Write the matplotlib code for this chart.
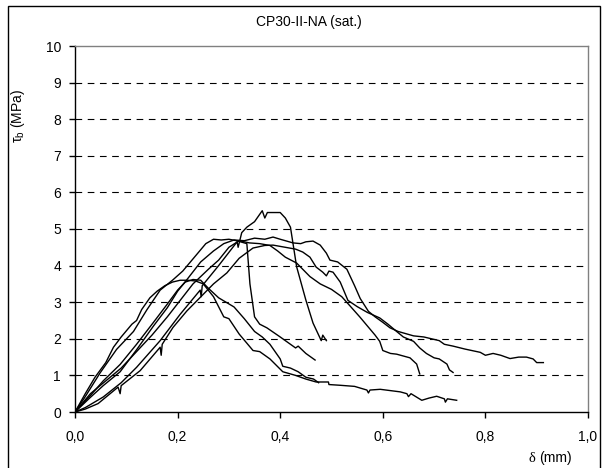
import matplotlib
matplotlib.use("Agg")
from matplotlib import pyplot as plt
from matplotlib.patches import Rectangle

TITLE = "CP30-II-NA (sat.)"
Y_LABEL = r"τ$_\mathregular{b}$ (MPa)"

x_ticks = [0.0, 0.2, 0.4, 0.6, 0.8, 1.0]
x_tick_labels = ["0,0", "0,2", "0,4", "0,6", "0,8", "1,0"]
y_ticks = list(range(11))
grid_levels = list(range(1, 10))

# steepest, peak ~3.6, long low tail
c1_x = [0, 0.01, 0.02, 0.039, 0.06, 0.075, 0.09, 0.111, 0.12, 0.13, 0.146, 0.16, 0.175,
        0.19, 0.205, 0.22, 0.235, 0.25, 0.27, 0.29, 0.30, 0.32, 0.347, 0.36, 0.38, 0.405,
        0.43, 0.45, 0.47, 0.494, 0.495, 0.517, 0.545, 0.569, 0.572, 0.575, 0.595,
        0.634, 0.647, 0.65, 0.655, 0.676, 0.69, 0.705, 0.72, 0.722, 0.726, 0.744]
c1_y = [0, 0.25, 0.5, 0.95, 1.35, 1.77, 2.05, 2.4, 2.5, 2.8, 3.12, 3.3, 3.45,
        3.55, 3.6, 3.6, 3.58, 3.5, 3.15, 2.6, 2.55, 2.13, 1.68, 1.65, 1.45, 1.1,
        1.0, 0.9, 0.82, 0.82, 0.75, 0.73, 0.7, 0.6, 0.52, 0.6, 0.62,
        0.55, 0.5, 0.42, 0.5, 0.32, 0.38, 0.43, 0.36, 0.27, 0.36, 0.32]

# peak ~3.6, ends near 0.48
c2_x = [0, 0.03, 0.055, 0.088, 0.12, 0.153, 0.18, 0.2, 0.215, 0.23, 0.245, 0.26,
        0.28, 0.31, 0.33, 0.35, 0.365, 0.38, 0.40, 0.405, 0.42, 0.435, 0.45,
        0.465, 0.475]
c2_y = [0, 0.45, 0.85, 1.3, 1.85, 2.45, 2.95, 3.33, 3.55, 3.62, 3.6, 3.38,
        3.12, 2.87, 2.55, 2.2, 2.05, 1.85, 1.45, 1.25, 1.2, 1.1, 0.95,
        0.9, 0.8]

# plateau ~4.7, sharp drop, ends at 1.4
c3_x = [0, 0.02, 0.049, 0.081, 0.114, 0.14, 0.166, 0.19, 0.21, 0.225, 0.24, 0.255,
        0.27, 0.285, 0.30, 0.315, 0.335, 0.341, 0.35, 0.36, 0.374, 0.40, 0.43,
        0.435, 0.45, 0.468]
c3_y = [0, 0.42, 1.07, 1.71, 2.2, 2.79, 3.33, 3.6, 3.85, 4.1, 4.35, 4.6,
        4.72, 4.7, 4.72, 4.68, 4.6, 3.5, 2.6, 2.4, 2.3, 2.05, 1.75,
        1.8, 1.6, 1.42]

# highest peak ~5.5
c4_x = [0, 0.02, 0.055, 0.09, 0.12, 0.166, 0.205, 0.244, 0.246, 0.248, 0.28,
        0.316, 0.318, 0.325, 0.335, 0.35, 0.36, 0.365, 0.37, 0.375, 0.385, 0.40,
        0.41, 0.42, 0.425, 0.432, 0.45, 0.464, 0.48, 0.483, 0.49]
c4_y = [0, 0.12, 0.41, 0.8, 1.22, 1.95, 2.67, 3.33, 3.15, 3.45, 4.0,
        4.65, 4.5, 4.9, 5.05, 5.2, 5.4, 5.5, 5.3, 5.45, 5.45, 5.45,
        5.3, 5.05, 4.6, 3.97, 3.06, 2.43, 1.95, 2.1, 1.95]

# long tail to 0.91
c5_x = [0, 0.03, 0.055, 0.088, 0.12, 0.153, 0.18, 0.2, 0.22, 0.245, 0.27, 0.29,
        0.31, 0.33, 0.35, 0.37, 0.386, 0.40, 0.425, 0.44, 0.45, 0.464, 0.478,
        0.49, 0.497, 0.512, 0.53, 0.545, 0.556, 0.572, 0.585, 0.60, 0.614, 0.63,
        0.66, 0.68, 0.71, 0.72, 0.737, 0.76, 0.79, 0.80, 0.815, 0.83, 0.848,
        0.865, 0.88, 0.893, 0.90, 0.913]
c5_y = [0, 0.4, 0.72, 1.1, 1.7, 2.35, 2.85, 3.3, 3.65, 4.1, 4.4, 4.6,
        4.7, 4.68, 4.75, 4.72, 4.78, 4.72, 4.62, 4.6, 4.65, 4.67, 4.56,
        4.34, 4.15, 4.1, 3.9, 3.45, 3.1, 2.75, 2.6, 2.45, 2.3, 2.2,
        2.08, 2.05, 1.95, 1.85, 1.8, 1.72, 1.63, 1.55, 1.6, 1.55, 1.46,
        1.5, 1.5, 1.45, 1.35, 1.35]

# lowest start, ends at 0.74
c6_x = [0, 0.02, 0.045, 0.084, 0.088, 0.09, 0.127, 0.166, 0.168, 0.17, 0.191,
        0.218, 0.244, 0.27, 0.296, 0.32, 0.347, 0.37, 0.386, 0.41, 0.43, 0.444,
        0.458, 0.47, 0.483, 0.49, 0.495, 0.503, 0.517, 0.532, 0.55, 0.57, 0.594,
        0.61, 0.627, 0.64, 0.66, 0.672, 0.685, 0.70, 0.71, 0.725, 0.73, 0.737]
c6_y = [0, 0.08, 0.23, 0.68, 0.5, 0.72, 1.13, 1.77, 1.55, 1.85, 2.31,
        2.76, 3.13, 3.5, 3.8, 4.2, 4.48, 4.55, 4.56, 4.5, 4.45, 4.37,
        4.23, 3.96, 3.82, 3.72, 3.85, 3.82, 3.55, 3.05, 2.88, 2.72, 2.57,
        2.4, 2.2, 2.05, 1.93, 1.75, 1.6, 1.48, 1.45, 1.31, 1.15, 1.08]

# ends at 0.67
c7_x = [0, 0.03, 0.06, 0.09, 0.12, 0.15, 0.18, 0.205, 0.23, 0.26, 0.28, 0.30,
        0.32, 0.34, 0.36, 0.38, 0.395, 0.41, 0.432, 0.458, 0.478, 0.50, 0.52,
        0.536, 0.555, 0.57, 0.585, 0.594, 0.60, 0.615, 0.627, 0.653, 0.666, 0.672]
c7_y = [0, 0.5, 0.85, 1.2, 1.65, 2.1, 2.6, 3.05, 3.5, 3.9, 4.15, 4.5,
        4.68, 4.62, 4.6, 4.55, 4.4, 4.23, 4.07, 3.7, 3.5, 3.35, 3.15,
        2.9, 2.6, 2.35, 2.1, 1.93, 1.68, 1.6, 1.58, 1.48, 1.31, 1.04]

curves = [(c1_x, c1_y), (c2_x, c2_y), (c3_x, c3_y), (c4_x, c4_y),
          (c5_x, c5_y), (c6_x, c6_y), (c7_x, c7_y)]

plt.rcParams['font.family'] = ['Liberation Sans', 'DejaVu Sans']

fig = plt.figure(figsize=(6.04, 4.68), dpi=100)
ax = fig.add_axes([75 / 604, 1 - 412 / 468, 513 / 604, 366 / 468])

for level in grid_levels:
    ax.axhline(level, color='black', lw=0.8, dashes=(6, 5), zorder=1)

for xs, ys in curves:
    ax.plot(xs, ys, color='black', lw=1.0, zorder=3)

ax.set_xlim(0, 1)
ax.set_ylim(0, 10)
ax.set_xticks(x_ticks)
ax.set_xticklabels(x_tick_labels)
ax.set_yticks(y_ticks)
ax.tick_params(direction='out', length=4, width=1, labelsize=10, colors='black')
ax.tick_params(axis='x', pad=9)
ax.tick_params(axis='y', pad=6)
for side in ('left', 'bottom'):
    ax.spines[side].set_color('black')
    ax.spines[side].set_linewidth(1)
for side in ('top', 'right'):
    ax.spines[side].set_color('#808080')
    ax.spines[side].set_linewidth(1)

fig.text(309 / 604, 1 - 22 / 468, TITLE, ha='center', va='center', fontsize=10)
fig.text(18 / 604, 1 - 116 / 468, Y_LABEL, ha='center', va='center',
         rotation=90, fontsize=10)
fig.text(532 / 604, 1 - 458 / 468, "δ", ha='center', va='center',
         fontsize=10.5, family=['Liberation Serif', 'DejaVu Serif'])
fig.text(539 / 604, 1 - 458 / 468, "(mm)", ha='left', va='center', fontsize=10)

fig.add_artist(Rectangle((8 / 604, -0.01), 592 / 604, (468 - 6) / 468 + 0.01,
                         transform=fig.transFigure, fill=False,
                         edgecolor='black', lw=1))

fig.savefig('out.png', dpi=100)
